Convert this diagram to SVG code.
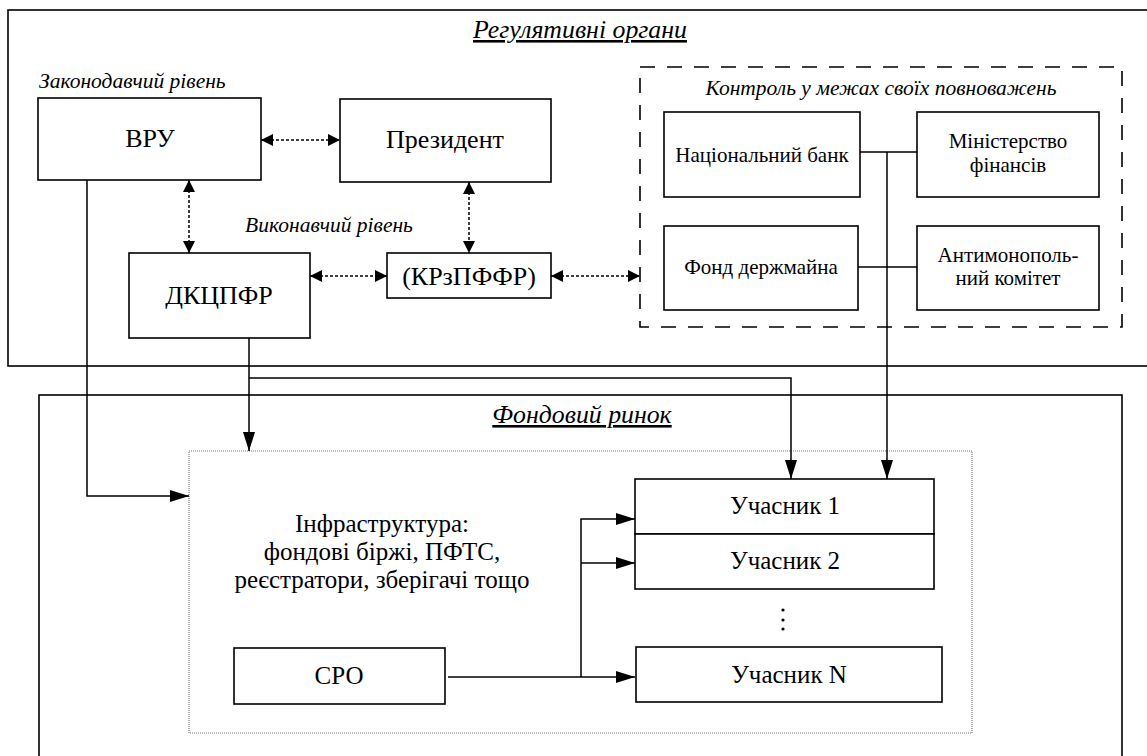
<svg xmlns="http://www.w3.org/2000/svg" width="1147" height="756" viewBox="0 0 1147 756" font-family="'Liberation Serif', 'DejaVu Serif', serif">
<style>
text{fill:#000}
.box{fill:#fff;stroke:#000;stroke-width:1.6}
.frame{fill:none;stroke:#000;stroke-width:1.6}
.dash{fill:none;stroke:#000;stroke-width:1.6;stroke-dasharray:15 12}
.infra{fill:#fff;stroke:#777;stroke-width:1.2;stroke-dasharray:1 1}
.big{font-size:26px;text-anchor:middle}
.mid{font-size:21px;text-anchor:middle}
.lg{font-size:25px;text-anchor:middle}
.it{font-size:21.5px;font-style:italic}
.title{font-size:25.8px;font-style:italic;text-anchor:middle;text-decoration:underline}
.ln{fill:none;stroke:#000;stroke-width:1.5}
.arr{fill:none;stroke:#000;stroke-width:1.5;marker-end:url(#ah)}
.dot{fill:none;stroke:#000;stroke-width:1.5;stroke-dasharray:3 2;marker-start:url(#dh);marker-end:url(#dh)}
</style>
<defs>
<marker id="ah" markerUnits="userSpaceOnUse" markerWidth="19" markerHeight="12" refX="19" refY="6" orient="auto">
<path d="M0,0 L19,6 L0,12 z" fill="#000"/>
</marker>
<marker id="dh" markerUnits="userSpaceOnUse" markerWidth="12" markerHeight="12" refX="12" refY="6" orient="auto-start-reverse">
<path d="M0,0 L12,6 L0,12 z" fill="#000"/>
</marker>
</defs>
<rect width="1147" height="756" fill="#fff"/>

<g id="regulators">
<rect class="frame" x="8" y="10" width="1145" height="356"/>
<text class="title" x="580" y="38">Регулятивні органи</text>
<text class="it" x="39" y="88">Законодавчий рівень</text>
<text class="it" x="329" y="232" text-anchor="middle">Виконавчий рівень</text>
</g>

<g id="control">
<rect class="dash" x="640" y="67" width="482" height="260"/>
<text class="it" x="881" y="95" text-anchor="middle">Контроль у межах своїх повноважень</text>
</g>

<g id="market">
<rect class="frame" x="39" y="395" width="1083" height="370"/>
<text class="title" x="582" y="423">Фондовий ринок</text>
</g>

<g id="infra">
<rect class="infra" x="189" y="451" width="783" height="282"/>
<text class="lg" x="382" y="532">Інфраструктура:</text>
<text class="lg" x="382" y="560">фондові біржі, ПФТС,</text>
<text class="lg" x="382" y="588">реєстратори, зберігачі тощо</text>
</g>

<g id="vru">
<rect class="box" x="38" y="98" width="223" height="82"/>
<text class="big" x="150" y="147">ВРУ</text>
</g>
<g id="president">
<rect class="box" x="340" y="99" width="211" height="83"/>
<text class="big" x="445" y="148">Президент</text>
</g>
<g id="dkcpfr">
<rect class="box" x="129" y="253" width="181" height="85"/>
<text class="big" x="219" y="304">ДКЦПФР</text>
</g>
<g id="krzpffr">
<rect class="box" x="387" y="253" width="164" height="45"/>
<text class="big" x="469" y="285">(КРзПФФР)</text>
</g>
<g id="nbu">
<rect class="box" x="664" y="112" width="196" height="85"/>
<text class="mid" x="762" y="162">Національний банк</text>
</g>
<g id="minfin">
<rect class="box" x="917" y="112" width="182" height="85"/>
<text class="mid" x="1008" y="148">Міністерство</text>
<text class="mid" x="1008" y="172">фінансів</text>
</g>
<g id="fdm">
<rect class="box" x="664" y="226" width="194" height="84"/>
<text class="mid" x="761" y="274">Фонд держмайна</text>
</g>
<g id="amk">
<rect class="box" x="917" y="226" width="182" height="84"/>
<text class="mid" x="1008" y="262">Антимонополь-</text>
<text class="mid" x="1008" y="285">ний комітет</text>
</g>
<g id="sro">
<rect class="box" x="234" y="648" width="211" height="56"/>
<text class="lg" x="339" y="684">СРО</text>
</g>
<g id="u1">
<rect class="box" x="635" y="479" width="299" height="55"/>
<text class="lg" x="785" y="514">Учасник 1</text>
</g>
<g id="u2">
<rect class="box" x="635" y="534" width="299" height="55"/>
<text class="lg" x="785" y="569">Учасник 2</text>
</g>
<g id="dots">
<circle cx="783" cy="610" r="1.6"/>
<circle cx="783" cy="620" r="1.6"/>
<circle cx="783" cy="629" r="1.6"/>
</g>
<g id="un">
<rect class="box" x="636" y="647" width="306" height="55"/>
<text class="lg" x="789" y="683">Учасник N</text>
</g>

<g id="connectors">
<line class="dot" x1="261" y1="140" x2="340" y2="140"/>
<line class="dot" x1="189" y1="180" x2="189" y2="253"/>
<line class="dot" x1="469" y1="182" x2="469" y2="253"/>
<line class="dot" x1="310" y1="276" x2="387" y2="276"/>
<line class="dot" x1="551" y1="276" x2="640" y2="276"/>
<path class="arr" d="M87,180 V496 H189"/>
<path class="arr" d="M249,338 V451"/>
<path class="arr" d="M249,378 H791 V479"/>
<path class="ln" d="M860,152 H917 M858,267 H917"/>
<path class="arr" d="M887,152 V479"/>
<path class="arr" d="M448,677 H635"/>
<path class="arr" d="M581,677 V519 H635"/>
<path class="arr" d="M581,563 H635"/>
</g>
</svg>
